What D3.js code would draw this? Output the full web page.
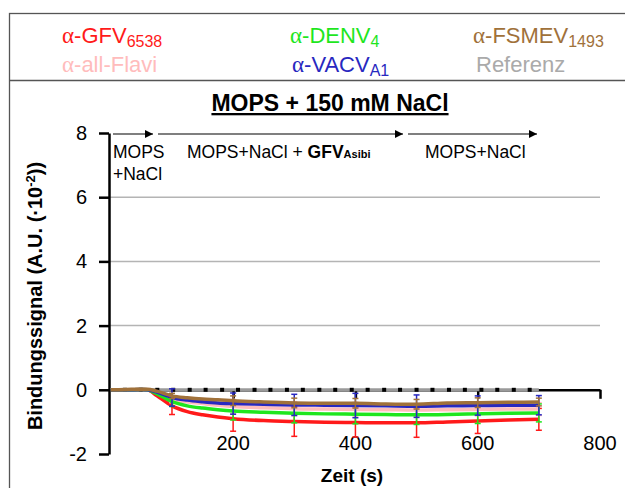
<!DOCTYPE html>
<html>
<head>
<meta charset="utf-8">
<script src="https://cdn.jsdelivr.net/npm/d3@7"></script>
<style>
  body { margin: 0; background: #fff; }
  text { font-family: "Liberation Sans", Arial, sans-serif; }
</style>
</head>
<body>
<script>
// Data (values in A.U. x 10^-2)
const times = [0, 25, 50, 60, 75, 100, 125, 150, 175, 200, 250, 300, 350, 400, 450, 500, 550, 600, 650, 700];
const gfv    = [0, 0, 0.01, 0, -0.18, -0.5, -0.68, -0.78, -0.85, -0.9, -0.96, -0.99, -1.01, -1.02, -1.03, -1.03, -1.0, -0.97, -0.94, -0.92];
const denv   = [0, 0, 0.01, 0, -0.12, -0.37, -0.5, -0.57, -0.62, -0.66, -0.7, -0.73, -0.75, -0.76, -0.77, -0.78, -0.77, -0.75, -0.73, -0.72];
const flavi  = [0, 0, 0.01, 0, -0.09, -0.3, -0.38, -0.43, -0.48, -0.52, -0.56, -0.59, -0.6, -0.61, -0.62, -0.63, -0.62, -0.61, -0.6, -0.6];
const vacv   = [0, 0, 0.01, 0, -0.07, -0.24, -0.32, -0.37, -0.41, -0.43, -0.45, -0.47, -0.48, -0.49, -0.5, -0.51, -0.5, -0.49, -0.48, -0.48];
const fsmev  = [0, 0.01, 0.02, 0.02, -0.04, -0.19, -0.25, -0.29, -0.31, -0.34, -0.38, -0.41, -0.42, -0.42, -0.44, -0.45, -0.41, -0.4, -0.39, -0.38];

// error bars every 100 s
const errTimes = [100, 200, 300, 400, 500, 600, 700];
const gfvErr   = [0.27, 0.39, 0.46, 0.45, 0.45, 0.39, 0.34];
const denvErr  = [0.15, 0.28, 0.3, 0.3, 0.3, 0.3, 0.28];
const flaviErr = [0.1, 0.22, 0.22, 0.22, 0.2, 0.2, 0.2];
const vacvErr  = [0.27, 0.33, 0.33, 0.38, 0.35, 0.3, 0.3];
const fsmevErr = [0.08, 0.15, 0.15, 0.15, 0.15, 0.15, 0.12];

// Referenz: flat at 0
const refTimes = [0, 23, 49, 76, 102, 129, 155, 182, 208, 235, 261, 288, 314, 341, 367, 394, 420, 447, 473, 500, 526, 553, 579, 606, 632, 659, 685, 700];
const refValues = refTimes.map(() => 0);

const yTicks = [-2, 0, 2, 4, 6, 8];
const xTickLabels = [200, 400, 600, 800];

const series = [
  { name: 'GFV', values: gfv, err: gfvErr, color: '#ff1a1a' },
  { name: 'all-Flavi', values: flavi, err: flaviErr, color: '#ffbcbc' },
  { name: 'DENV', values: denv, err: denvErr, color: '#1ee61e' },
  { name: 'VACV', values: vacv, err: vacvErr, color: '#2828c0' },
  { name: 'FSMEV', values: fsmev, err: fsmevErr, color: '#a0713a' }
];

const W = 625, H = 488;
const svg = d3.select('body').append('svg')
  .attr('width', W)
  .attr('height', H);

// Frame around legend + plot
svg.append('rect')
  .attr('x', 9.5).attr('y', 13.5)
  .attr('width', 640).attr('height', 500)
  .attr('fill', 'none').attr('stroke', '#555').attr('stroke-width', 1.3);
svg.append('line')
  .attr('x1', 9).attr('x2', W).attr('y1', 80.5).attr('y2', 80.5)
  .attr('stroke', '#555').attr('stroke-width', 1.3);

// Legend
const legendItems = [
  { pre: 'α', main: '-GFV', sub: '6538', color: '#ff1a1a', x: 62, y: 43 },
  { pre: 'α', main: '-DENV', sub: '4', color: '#1ee61e', x: 290, y: 43 },
  { pre: 'α', main: '-FSMEV', sub: '1493', color: '#a0713a', x: 473, y: 43 },
  { pre: 'α', main: '-all-Flavi', sub: '', color: '#ffbcbc', x: 62, y: 72 },
  { pre: 'α', main: '-VACV', sub: 'A1', color: '#2828c0', x: 292, y: 72 },
  { pre: '', main: 'Referenz', sub: '', color: '#aaaaaa', x: 476, y: 72 }
];
legendItems.forEach(d => {
  const t = svg.append('text')
    .attr('x', d.x).attr('y', d.y)
    .attr('fill', d.color)
    .style('font-size', '22px');
  if (d.pre) t.append('tspan').style('font-family', '"Liberation Serif", serif').style('font-size', '23px').text(d.pre);
  t.append('tspan').text(d.main);
  if (d.sub) t.append('tspan').attr('dy', 4).style('font-size', '16px').text(d.sub);
});

// Scales
const x = d3.scaleLinear().domain([-3, 800]).range([109, 600]);
const y = d3.scaleLinear().domain([-2, 8]).range([454, 133]);

// Title
svg.append('text')
  .attr('x', 330).attr('y', 111)
  .attr('text-anchor', 'middle')
  .style('font-size', '23px').style('font-weight', 'bold')
  .style('text-decoration', 'underline')
  .text('MOPS + 150 mM NaCl');

// Gridlines
svg.append('g')
  .selectAll('line')
  .data([2, 4, 6])
  .join('line')
  .attr('x1', x(-3)).attr('x2', x(800))
  .attr('y1', d => y(d)).attr('y2', d => y(d))
  .attr('stroke', '#b4b4b4').attr('stroke-width', 1.5);

// Y axis
const yAxis = svg.append('g')
  .attr('transform', `translate(${x(-3)},0)`)
  .call(d3.axisLeft(y).tickValues(yTicks).tickSize(10).tickSizeOuter(0).tickPadding(12).tickFormat(d => String(d)));
yAxis.select('.domain').attr('stroke', '#000').attr('stroke-width', 2.5);
yAxis.selectAll('.tick line').attr('stroke', '#000').attr('stroke-width', 2.5);
yAxis.selectAll('.tick text')
  .style('font-size', '20px')
  .style('font-family', '"Liberation Sans", Arial, sans-serif')
  .attr('fill', '#000');

// X axis at y = 0
const xAxis = svg.append('g')
  .attr('transform', `translate(0,${y(0)})`)
  .call(d3.axisBottom(x).tickValues(xTickLabels).tickSize(9).tickSizeOuter(0).tickFormat(''));
xAxis.select('.domain').attr('stroke', '#000').attr('stroke-width', 2.5);
xAxis.selectAll('.tick line').attr('stroke', '#000').attr('stroke-width', 2.5);

// X tick labels at bottom of plot
svg.append('g')
  .selectAll('text')
  .data(xTickLabels)
  .join('text')
  .attr('x', d => x(d)).attr('y', 450)
  .attr('text-anchor', 'middle')
  .style('font-size', '20px')
  .text(d => d);

// Axis titles
svg.append('text')
  .attr('x', 352).attr('y', 482)
  .attr('text-anchor', 'middle')
  .style('font-size', '19px').style('font-weight', 'bold')
  .text('Zeit (s)');

const yl = svg.append('text')
  .attr('transform', 'translate(42,296) rotate(-90)')
  .attr('text-anchor', 'middle')
  .style('font-size', '20px').style('font-weight', 'bold');
yl.append('tspan').text('Bindungssignal (A.U. (·10');
yl.append('tspan').attr('dy', -7).style('font-size', '13px').text('-2');
yl.append('tspan').attr('dy', 7).text('))');

// Referenz line
const line = d3.line().x(d => x(d[0])).y(d => y(d[1]));
const refData = refTimes.map((t, i) => [t, refValues[i]]);
svg.append('path')
  .datum(refData)
  .attr('d', line)
  .attr('fill', 'none')
  .attr('stroke', '#9a9a9a')
  .attr('stroke-width', 3);
svg.append('g')
  .selectAll('rect')
  .data(refData.slice(1, -1))
  .join('rect')
  .attr('x', d => x(d[0]) - 2).attr('y', d => y(d[1]) - 2)
  .attr('width', 4).attr('height', 4)
  .attr('fill', '#000');

// Series lines + error bars
series.forEach(s => {
  const data = times.map((t, i) => [t, s.values[i]]);
  const g = svg.append('g');
  g.append('path')
    .datum(data)
    .attr('d', line.curve(d3.curveMonotoneX))
    .attr('fill', 'none')
    .attr('stroke', s.color)
    .attr('stroke-width', 3.5);

  const errData = errTimes.map((t, i) => {
    const v = s.values[times.indexOf(t)];
    return { t, lo: v - s.err[i], hi: v + s.err[i] };
  });
  const eb = g.selectAll('.eb')
    .data(errData)
    .join('g')
    .attr('stroke', s.color)
    .attr('stroke-width', 1.5);
  eb.append('line')
    .attr('x1', d => x(d.t)).attr('x2', d => x(d.t))
    .attr('y1', d => y(d.lo)).attr('y2', d => y(d.hi));
  eb.append('line')
    .attr('x1', d => x(d.t) - 3).attr('x2', d => x(d.t) + 3)
    .attr('y1', d => y(d.lo)).attr('y2', d => y(d.lo));
  eb.append('line')
    .attr('x1', d => x(d.t) - 3).attr('x2', d => x(d.t) + 3)
    .attr('y1', d => y(d.hi)).attr('y2', d => y(d.hi));
});

// Phase arrows and labels
const defs = svg.append('defs');
defs.append('marker')
  .attr('id', 'arrow')
  .attr('viewBox', '0 0 10 10')
  .attr('refX', 10).attr('refY', 5)
  .attr('markerWidth', 9).attr('markerHeight', 8)
  .attr('markerUnits', 'userSpaceOnUse')
  .attr('orient', 'auto')
  .append('path')
  .attr('d', 'M0,0L10,5L0,10Z')
  .attr('fill', '#000');

const arrows = [[113, 153], [158, 403], [408, 537]];
svg.append('g')
  .selectAll('line')
  .data(arrows)
  .join('line')
  .attr('x1', d => d[0]).attr('x2', d => d[1])
  .attr('y1', 134).attr('y2', 134)
  .attr('stroke', '#000').attr('stroke-width', 1.2)
  .attr('marker-end', 'url(#arrow)');

svg.append('text').attr('x', 113).attr('y', 158).style('font-size', '17.5px').text('MOPS');
svg.append('text').attr('x', 113).attr('y', 180).style('font-size', '17.5px').text('+NaCl');
const mid = svg.append('text').attr('x', 187).attr('y', 158).style('font-size', '17.5px');
mid.append('tspan').text('MOPS+NaCl  + ');
mid.append('tspan').style('font-weight', 'bold').text('GFV');
mid.append('tspan').style('font-weight', 'bold').style('font-size', '11px').text('Asibi');
svg.append('text').attr('x', 425).attr('y', 158).style('font-size', '17.5px').text('MOPS+NaCl');
</script>
</body>
</html>
